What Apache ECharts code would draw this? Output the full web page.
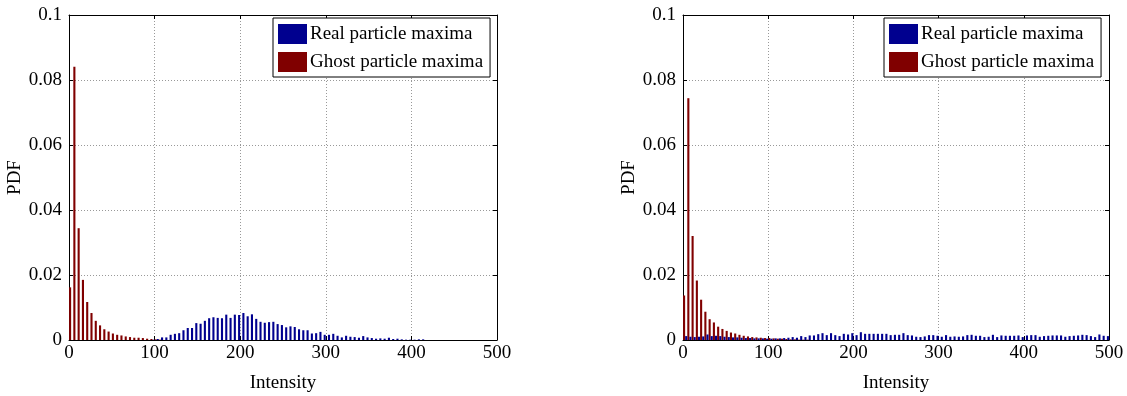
<!DOCTYPE html>
<html>
<head>
<meta charset="utf-8">
<script src="https://cdn.jsdelivr.net/npm/echarts@6/dist/echarts.min.js"></script>
<style>html,body{margin:0;padding:0;background:#fff}#c{width:1127px;height:396px}</style>
</head>
<body>
<div id="c"></div>
<script>
// bins of width 5 intensity units, 100 bins from 0 to 500
const binWidth = 5;
const binCount = 100;
const xTicks = [0, 100, 200, 300, 400, 500];
const yTicks = [0, 0.02, 0.04, 0.06, 0.08, 0.1];
const seriesNames = ['Real particle maxima', 'Ghost particle maxima'];

function pad(arr) { const a = arr.slice(); while (a.length < binCount) a.push(0); return a; }

// Left panel
const leftGhost = pad([0.0162,0.0841,0.0344,0.0185,0.0117,0.0083,0.0059,0.0045,0.0033,0.0026,
  0.0020,0.0016,0.0014,0.0011,0.0009,0.0007,0.0007,0.0006,0.0004,0.0003,0.0002,0.0001]);
const leftReal = pad([0,0,0,0,0,0,0,0,0,0, 0,0,0,0,0,0,0,0,0,0.0001, 0.0003,
  0.0008,0.0008,0.0016,0.0019,0.0021,0.0030,0.0037,0.0037,0.0052,0.0050,
  0.0059,0.0067,0.0070,0.0068,0.0067,0.0078,0.0068,0.0078,0.0077,0.0083,
  0.0073,0.0079,0.0065,0.0056,0.0053,0.0055,0.0056,0.0049,0.0046,0.0039,
  0.0042,0.0040,0.0033,
  0.0030,0.0030,0.0020,0.0021,0.0025,0.0016,0.0016,0.0019,0.0013,0.0008,
  0.0013,0.0010,0.0009,0.0007,0.0012,0.0008,0.0006,0.0004,0.0005,0.0004,
  0.0007,0.0003,0.0004,0.0002,0.0001,0.0001,0.0001,0.0002,0.0002]);

// Right panel
const rightGhost = pad([0.0137,0.0744,0.0320,0.0183,0.0124,0.0087,0.0064,0.0054,0.0041,0.0034,
  0.0028,0.0023,0.0020,0.0016,0.0013,0.0011,0.0009,0.0008,0.0007,0.0006,
  0.0006,0.0005,0.0004,0.0004,0.0003,0.0002,0.0002,0.0001,0.0001,0.0001]);
const rightReal = pad([0.0012,0.0010,0.0009,0.0010,0.0011,0.0017,0.0012,0.0013,0.0012,0.0010,
  0.0009,0.0008,0.0008,0.0007,0.0006,0.0006,0.0005,0.0005,0.0005,0.0004,
  0.0004,0.0005,0.0005,0.0006,
  0.0007,0.0009,0.0007,0.0012,0.0009,0.0014,0.0014,0.0018,0.0021,0.0015,
  0.0021,0.0015,0.0012,0.0019,0.0017,0.0021,0.0015,0.0024,0.0019,0.0019,
  0.0019,0.0019,0.0019,0.0019,0.0015,0.0016,0.0016,0.0021,0.0015,0.0014,
  0.0010,0.0009,0.0011,0.0015,0.0015,
  0.0013,0.0010,0.0015,0.0010,0.0011,0.0010,0.0011,0.0015,0.0016,0.0013,
  0.0013,0.0009,0.0010,0.0016,0.0009,0.0014,0.0013,0.0013,0.0013,0.0014,
  0.0009,0.0014,0.0015,0.0015,0.0010,0.0012,0.0013,0.0014,0.0014,0.0014,
  0.0010,0.0012,0.0013,0.0014,0.0016,0.0015,0.0012,0.0009,0.0017,0.0013,
  0.0012]);

const binCenters = Array.from({length: binCount}, (_, k) => k * binWidth + binWidth / 2);
const pairs = vals => vals.map((v, i) => [binCenters[i], v]);

const FONT = '"Liberation Serif","Times New Roman",serif';
const FS = 19;
const BLUE = '#00008F';
const RED = '#800000';

const grids = [
  {left: 69, right: 630, top: 15, bottom: 56, outerBoundsMode: 'none', containLabel: false},
  {left: 683, right: 18, top: 15, bottom: 56, outerBoundsMode: 'none', containLabel: false}
];

const xAxes = [], yAxes = [];
grids.forEach((g, gi) => {
  xAxes.push({
    type: 'value', gridIndex: gi, position: 'bottom', min: xTicks[0], max: xTicks[xTicks.length-1], interval: 100,
    name: 'Intensity', nameLocation: 'middle', nameGap: 34,
    nameTextStyle: {fontFamily: FONT, fontSize: FS, color: '#000'},
    axisLine: {show: true, onZero: false, lineStyle: {color: '#000', width: 1}},
    axisTick: {show: true, inside: true, length: 4, lineStyle: {color: '#000'}},
    axisLabel: {fontFamily: FONT, fontSize: FS, color: '#000', margin: 4},
    splitLine: {show: true, lineStyle: {color: '#999', type: [1, 2], width: 1}}
  });
  xAxes.push({
    type: 'value', gridIndex: gi, position: 'top', min: xTicks[0], max: xTicks[xTicks.length-1], interval: 100,
    axisLine: {show: true, onZero: false, lineStyle: {color: '#000', width: 1}},
    axisTick: {show: true, inside: true, length: 4, lineStyle: {color: '#000'}},
    axisLabel: {show: false}, splitLine: {show: false}
  });
  yAxes.push({
    type: 'value', gridIndex: gi, position: 'left', min: yTicks[0], max: yTicks[yTicks.length-1], interval: 0.02,
    name: 'PDF', nameLocation: 'middle', nameGap: 43, nameRotate: 90,
    nameTextStyle: {fontFamily: FONT, fontSize: FS, color: '#000'},
    axisLine: {show: true, onZero: false, lineStyle: {color: '#000', width: 1}},
    axisTick: {show: true, inside: true, length: 4, lineStyle: {color: '#000'}},
    axisLabel: {fontFamily: FONT, fontSize: FS, color: '#000', margin: 7,
      formatter: v => String(+v.toFixed(2))},
    splitLine: {show: true, lineStyle: {color: '#999', type: [1, 2], width: 1}}
  });
  yAxes.push({
    type: 'value', gridIndex: gi, position: 'right', min: yTicks[0], max: yTicks[yTicks.length-1], interval: 0.02,
    axisLine: {show: true, onZero: false, lineStyle: {color: '#000', width: 1}},
    axisTick: {show: true, inside: true, length: 4, lineStyle: {color: '#000'}},
    axisLabel: {show: false}, splitLine: {show: false}
  });
});

function barSeries(name, data, color, axisIdx) {
  return {
    name, type: 'bar', xAxisIndex: axisIdx, yAxisIndex: axisIdx, data: pairs(data),
    barWidth: 2.1, barGap: '0%', animation: false,
    itemStyle: {color: color}
  };
}

const legendBase = {
  orient: 'vertical', top: 18, itemWidth: 29, itemHeight: 20, itemGap: 8,
  padding: [6, 7, 5, 5], backgroundColor: '#fff', borderColor: '#000', borderWidth: 1, borderRadius: 0,
  textStyle: {fontFamily: FONT, fontSize: FS, color: '#000', padding: [0, 0, 0, -2]},
  icon: 'rect', data: seriesNames, selectedMode: false
};

const option = {
  animation: false,
  backgroundColor: '#fff',
  grid: grids,
  xAxis: xAxes,
  yAxis: yAxes,
  legend: [
    Object.assign({}, legendBase, {left: 273}),
    Object.assign({}, legendBase, {left: 884})
  ],
  series: [
    barSeries('Ghost particle maxima', leftGhost, RED, 0),
    barSeries('Real particle maxima', leftReal, BLUE, 0),
    barSeries('Ghost particle maxima', rightGhost, RED, 2),
    barSeries('Real particle maxima', rightReal, BLUE, 2)
  ]
};

const chart = echarts.init(document.getElementById('c'), null, {renderer: 'canvas'});
chart.setOption(option);
</script>
</body>
</html>
